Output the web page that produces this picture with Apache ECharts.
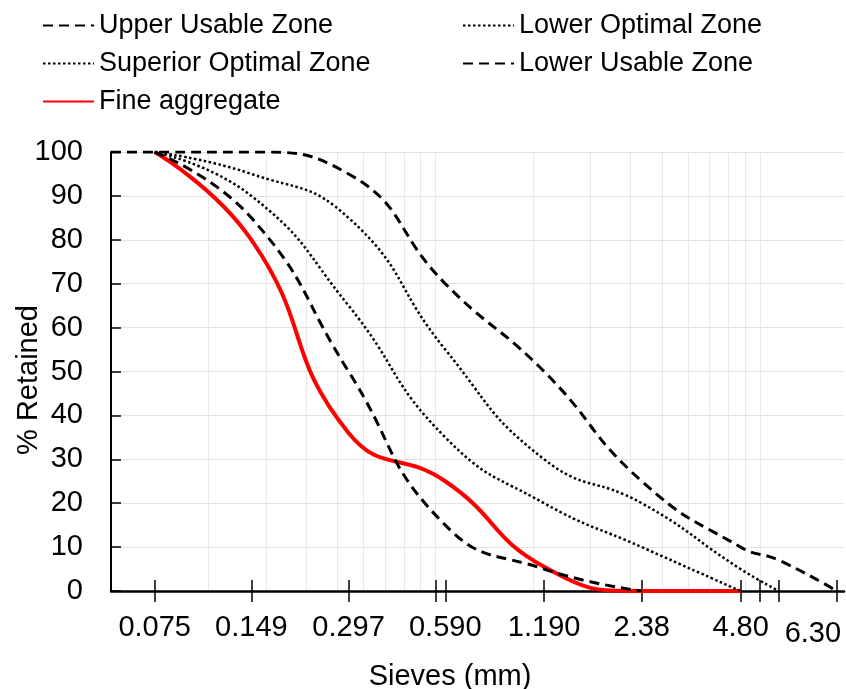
<!DOCTYPE html>
<html>
<head>
<meta charset="utf-8">
<script src="https://cdn.jsdelivr.net/npm/echarts@6/dist/echarts.min.js"></script>
<style>
  html, body { margin: 0; padding: 0; background: #fff; }
  #chart { width: 846px; height: 689px; }
</style>
</head>
<body>
<div id="chart"></div>
<script>
// sieve openings (mm) shared by every curve
var sieves = [0.055, 0.075, 0.149, 0.297, 0.59, 1.19, 2.38, 4.80, 6.30, 9.50];

// % retained on each sieve
var upperUsable     = [100, 100, 100, 95, 70, 50, 25, 10, 7, 0];
var lowerOptimal    = [null, 100, 95, 85, 55, 30, 20, 5, 0];
var superiorOptimal = [null, 100, 90, 65, 35, 20, 10, 0];
var lowerUsable     = [null, 100, 85, 50, 15, 5, 0];
var fineAggregate   = [null, 100, 80, 36, 25, 5.5, 0, 0];

// x axis ticks and labels
var labelSieves = [0.075, 0.149, 0.297, 0.590, 1.190, 2.38, 4.80, 6.30];
var labelTexts  = ['0.075', '0.149', '0.297', '0.590', '1.190', '2.38', '4.80', '6.30'];
var extraTicks  = [0.55, 5.5, 9.5];
var gridSieves  = [0.11, 0.165, 0.22, 0.275, 0.33, 0.385, 0.44, 0.495, 0.55,
                   1.1, 1.65, 2.2, 2.75, 3.3, 3.85, 4.4, 4.95, 5.5];

var xMin = 0.055, xMax = 10;
var font = "'Liberation Sans', Arial, sans-serif";

// log10 scale done by hand on a value axis
var lg = function (v) { return Math.log10(v); };
var pairs = function (arr) {
    var out = [];
    for (var i = 0; i < arr.length; i++) {
        if (arr[i] !== null && arr[i] !== undefined) out.push([lg(sieves[i]), arr[i]]);
    }
    return out;
};

var tickVals = labelSieves.concat(extraTicks).map(lg);

var chart = echarts.init(document.getElementById('chart'));

var dashed = { color: '#000', width: 3, type: [10, 6] };
var dotted = { color: '#000', width: 2.5, type: [2.5, 2.5] };

var legendBase = {
    top: 12, orient: 'vertical', itemGap: 11, padding: 0,
    itemWidth: 51, itemHeight: 14,
    itemStyle: { opacity: 0 },
    textStyle: { fontSize: 27, color: '#000', fontFamily: font }
};

var option = {
    animation: false,
    backgroundColor: '#fff',
    grid: [
        { left: 111, right: 2, top: 152, bottom: 98, outerBoundsMode: 'none' },
        { left: 111, right: 2, top: 152, bottom: 98, outerBoundsMode: 'none' }
    ],
    legend: [
        echarts.util.extend({ left: 42, data: ['Upper Usable Zone', 'Superior Optimal Zone', 'Fine aggregate'] }, legendBase),
        echarts.util.extend({ left: 462, data: ['Lower Optimal Zone', 'Lower Usable Zone'] }, legendBase)
    ],
    xAxis: [
        {
            type: 'value', gridIndex: 0, position: 'bottom',
            min: lg(xMin), max: lg(xMax),
            name: 'Sieves (mm)', nameLocation: 'middle', nameGap: 71, nameMoveOverlap: false,
            nameTextStyle: { fontSize: 29, color: '#000', fontFamily: font, padding: [0, 55, 0, 0] },
            axisLine: { onZero: false, lineStyle: { color: '#000', width: 2.5 } },
            axisTick: { show: true, length: 11, customValues: tickVals, lineStyle: { color: '#000', width: 1.5 } },
            axisLabel: {
                customValues: labelSieves.map(lg), margin: 22,
                fontSize: 29, color: '#000', fontFamily: font,
                formatter: function (v) {
                    for (var i = 0; i < labelSieves.length; i++) {
                        if (Math.abs(lg(labelSieves[i]) - v) < 1e-6) {
                            return i === labelSieves.length - 1 ? '{far|' + labelTexts[i] + '}' : labelTexts[i];
                        }
                    }
                    return '';
                },
                rich: { far: { fontSize: 29, color: '#000', fontFamily: font, padding: [6, 0, 0, 68] } }
            },
            splitLine: { show: false }
        },
        {
            // only carries the light vertical grid
            type: 'value', gridIndex: 0, position: 'top',
            min: lg(xMin), max: lg(xMax),
            axisLine: { show: false, onZero: false },
            axisTick: { show: false, customValues: gridSieves.map(lg) },
            axisLabel: { show: false },
            splitLine: { show: true, lineStyle: { color: '#e8e8e8', width: 1 } }
        },
        {
            // inner half of the crossing ticks
            type: 'value', gridIndex: 1, position: 'bottom',
            min: lg(xMin), max: lg(xMax),
            axisLine: { show: false, onZero: false },
            axisTick: { show: true, inside: true, length: 11, customValues: tickVals, lineStyle: { color: '#000', width: 1.5 } },
            axisLabel: { show: false },
            splitLine: { show: false }
        }
    ],
    yAxis: [
        {
            type: 'value', gridIndex: 0, min: 0, max: 100, interval: 10,
            name: '% Retained', nameLocation: 'middle', nameGap: 68, nameRotate: 90, nameMoveOverlap: false,
            nameTextStyle: { fontSize: 29, color: '#000', fontFamily: font, padding: [0, 17, 0, 0] },
            axisLine: { show: true, onZero: false, lineStyle: { color: '#000', width: 2 } },
            axisTick: { show: true, inside: true, length: 10, lineStyle: { color: '#000', width: 1.5 } },
            axisLabel: { margin: 28, fontSize: 29, color: '#000', fontFamily: font },
            splitLine: { show: true, lineStyle: { color: '#e2e2e2', width: 1 } }
        },
        { type: 'value', gridIndex: 1, min: 0, max: 100, show: false }
    ],
    series: [
        {
            name: 'Fine aggregate', type: 'line', smooth: true, symbol: 'none',
            lineStyle: { color: '#ff0000', width: 4 }, itemStyle: { color: '#ff0000' },
            data: pairs(fineAggregate)
        },
        {
            name: 'Upper Usable Zone', type: 'line', smooth: true, symbol: 'none',
            lineStyle: dashed, itemStyle: { color: '#000' },
            data: pairs(upperUsable)
        },
        {
            name: 'Lower Optimal Zone', type: 'line', smooth: true, symbol: 'none',
            lineStyle: dotted, itemStyle: { color: '#000' },
            data: pairs(lowerOptimal)
        },
        {
            name: 'Superior Optimal Zone', type: 'line', smooth: true, symbol: 'none',
            lineStyle: dotted, itemStyle: { color: '#000' },
            data: pairs(superiorOptimal)
        },
        {
            name: 'Lower Usable Zone', type: 'line', smooth: true, symbol: 'none',
            lineStyle: dashed, itemStyle: { color: '#000' },
            data: pairs(lowerUsable)
        }
    ]
};
chart.setOption(option);
</script>
</body>
</html>
